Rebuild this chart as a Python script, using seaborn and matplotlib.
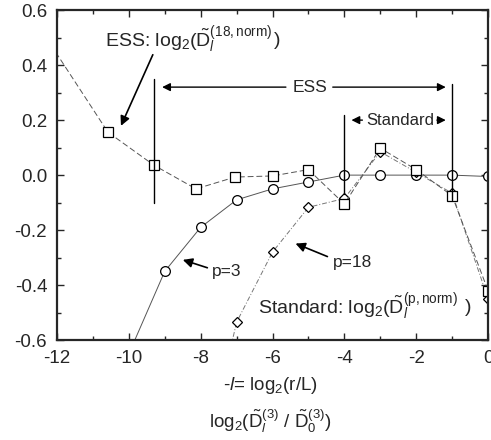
import numpy as np
import pandas as pd
import matplotlib
matplotlib.use("Agg")
import matplotlib.pyplot as plt
import seaborn as sns
from matplotlib.ticker import MultipleLocator

# ---- data ----
ess_x = [-12.3, -10.58, -9.30, -8.13, -7.04, -6.0, -5.0, -4.0, -3.0, -2.0, -1.0, 0.0]
ess_y = [0.50, 0.156, 0.036, -0.050, -0.007, -0.003, 0.020, -0.105, 0.098, 0.020, -0.075, -0.42]

p3_x = [-10, -9, -8, -7, -6, -5, -4, -3, -2, -1, 0]
p3_y = [-0.65, -0.35, -0.19, -0.09, -0.05, -0.025, 0.0, 0.0, 0.0, 0.0, -0.005]

p18_x = [-8, -7, -6, -5, -4, -3, -2, -1, 0]
p18_y = [-1.10, -0.535, -0.28, -0.117, -0.085, 0.085, 0.010, -0.066, -0.45]

xticks = [-12, -10, -8, -6, -4, -2, 0]
yticks = [-0.6, -0.4, -0.2, 0.0, 0.2, 0.4, 0.6]

sns.set_style("ticks")
plt.rcParams['font.family'] = ['Liberation Sans', 'DejaVu Sans']
plt.rcParams['mathtext.fontset'] = 'custom'
plt.rcParams['mathtext.rm'] = 'Liberation Sans'
plt.rcParams['mathtext.it'] = 'Liberation Sans:italic'
plt.rcParams['mathtext.bf'] = 'Liberation Sans:bold'

fig = plt.figure(figsize=(4.91, 4.40), dpi=100)
ax = fig.add_axes([0.116, 0.227, 0.878, 0.750])

gray = '#555555'
df_ess = pd.DataFrame({'x': ess_x, 'y': ess_y})
df_p3 = pd.DataFrame({'x': p3_x, 'y': p3_y})
df_p18 = pd.DataFrame({'x': p18_x, 'y': p18_y})

sns.lineplot(data=df_p3, x='x', y='y', ax=ax, sort=False, color=gray, lw=0.7,
             marker='o', markersize=7, markerfacecolor='white', markeredgecolor='black',
             markeredgewidth=0.9)
sns.lineplot(data=df_p18, x='x', y='y', ax=ax, sort=False, color='#777777', lw=0.7,
             marker='D', markersize=5, markerfacecolor='white', markeredgecolor='black',
             markeredgewidth=0.9)
ax.lines[-1].set_dashes([5, 2, 1, 2])
sns.lineplot(data=df_ess, x='x', y='y', ax=ax, sort=False, color=gray, lw=0.7,
             marker='s', markersize=6.5, markerfacecolor='white', markeredgecolor='black',
             markeredgewidth=0.9)
ax.lines[-1].set_dashes([6, 3])

ax.set_xlim(-12, 0)
ax.set_ylim(-0.6, 0.6)
ax.set_xticks(xticks)
ax.set_xticklabels([str(t) for t in xticks])
ax.set_yticks(yticks)
ax.set_yticklabels([f"{t:.1f}" for t in yticks])
ax.xaxis.set_minor_locator(MultipleLocator(1))
ax.yaxis.set_minor_locator(MultipleLocator(0.1))
ax.tick_params(which='both', direction='in', top=True, right=True, labelsize=13.5, width=1.0)
ax.tick_params(which='major', length=5, pad=7)
ax.tick_params(which='minor', length=3)
for s in ax.spines.values():
    s.set_linewidth(1.6)
ax.set_xlabel('')
ax.set_ylabel('')

# vertical marker lines
ax.plot([-9.3, -9.3], [0.35, -0.10], color='black', lw=1.0)
ax.plot([-1.0, -1.0], [0.33, -0.09], color='black', lw=1.0)
ax.plot([-4.0, -4.0], [0.22, -0.07], color='black', lw=1.0)

# ESS range arrow
ax.annotate('', xy=(-9.15, 0.32), xytext=(-5.55, 0.32),
            arrowprops=dict(arrowstyle='-|>', color='black', lw=1.0, mutation_scale=12))
ax.annotate('', xy=(-1.1, 0.32), xytext=(-4.4, 0.32),
            arrowprops=dict(arrowstyle='-|>', color='black', lw=1.0, mutation_scale=12))
ax.text(-4.97, 0.32, 'ESS', ha='center', va='center', fontsize=12.5)

# Standard range arrow
ax.annotate('', xy=(-3.88, 0.20), xytext=(-3.42, 0.20),
            arrowprops=dict(arrowstyle='-|>', color='black', lw=1.0, mutation_scale=12))
ax.annotate('', xy=(-1.1, 0.20), xytext=(-1.5, 0.20),
            arrowprops=dict(arrowstyle='-|>', color='black', lw=1.0, mutation_scale=12))
ax.text(-2.45, 0.20, 'Standard', ha='center', va='center', fontsize=12)

# labels with arrows
ax.text(-10.66, 0.49, r'ESS: log$_2$($\tilde{\mathrm{D}}_l^{(18,\mathrm{norm})}$',
        ha='left', va='center', fontsize=14)
ax.text(-5.87, 0.49, ')', ha='center', va='center', fontsize=14)
ax.annotate('', xy=(-10.25, 0.17), xytext=(-9.3, 0.447),
            arrowprops=dict(arrowstyle='-|>', color='black', lw=1.2, mutation_scale=14))

ax.text(-7.68, -0.35, 'p=3', ha='left', va='center', fontsize=12.5)
ax.annotate('', xy=(-8.57, -0.305), xytext=(-7.74, -0.34),
            arrowprops=dict(arrowstyle='-|>', color='black', lw=1.2, mutation_scale=14))

ax.text(-4.31, -0.318, 'p=18', ha='left', va='center', fontsize=12.5)
ax.annotate('', xy=(-5.43, -0.245), xytext=(-4.4, -0.30),
            arrowprops=dict(arrowstyle='-|>', color='black', lw=1.2, mutation_scale=14))

ax.text(-6.4, -0.48, r'Standard: log$_2$($\tilde{\mathrm{D}}_l^{(\mathrm{p,norm})}$',
        ha='left', va='center', fontsize=14)
ax.text(-0.55, -0.48, ')', ha='center', va='center', fontsize=14)

fig.text(0.55, 1 - 385 / 440, r'-$l$= log$_2$(r/L)', ha='center', va='center', fontsize=13.5)
fig.text(0.55, 1 - 421 / 440,
         r'log$_2$($\tilde{\mathrm{D}}_l^{(3)}$ / $\tilde{\mathrm{D}}_0^{(3)}$)',
         ha='center', va='center', fontsize=13.5)

fig.savefig('out.png', dpi=100)
